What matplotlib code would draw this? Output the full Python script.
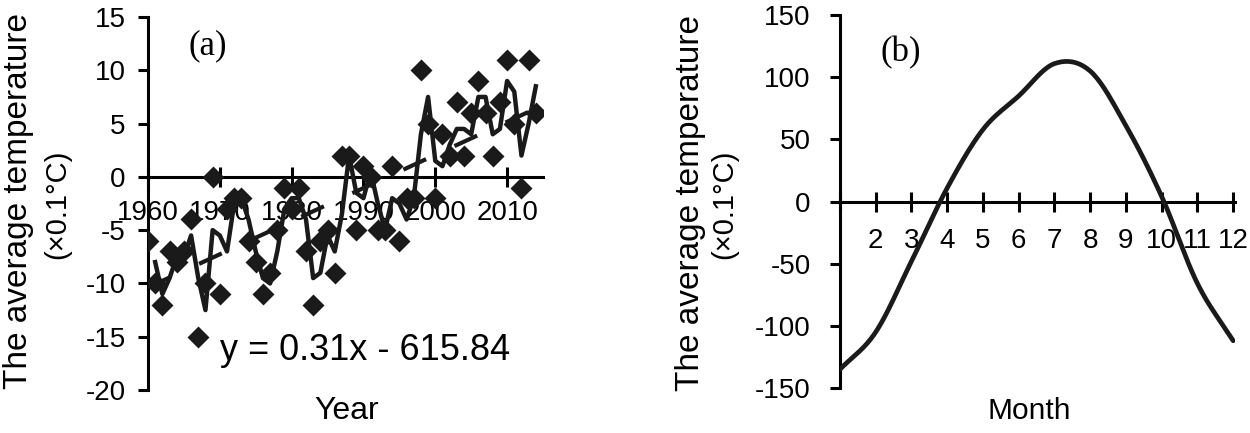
import numpy as np
import pandas as pd
import matplotlib
matplotlib.use("Agg")
import matplotlib.pyplot as plt
from matplotlib.path import Path
from matplotlib.patches import PathPatch

plt.rcParams['font.family'] = ['Liberation Sans', 'DejaVu Sans']
plt.rcParams['axes.unicode_minus'] = False

# -------------------------------
# Data
# -------------------------------
years = np.arange(1960, 2015)
temp_anom = [-6, -10, -12, -7, -8, -7, -4, -15, -10, 0,
             -11, -3, -2, -2, -6, -8, -11, -9, -5, -1,
             -3, -1, -7, -12, -6, -5, -9, 2, 2, -5,
             1, 0, -5, -5, 1, -6, -2, -2, 10, 5,
             -2, 4, 2, 7, 2, 6, 9, 6, 2, 7,
             11, 5, -1, 11, 6]
year_ticks = [1960, 1970, 1980, 1990, 2000, 2010]
equation = "y = 0.31x - 615.84"

months = np.arange(1, 13)
month_temp = [-135, -105, -48, 11, 58, 85, 111, 105, 61, 4, -66, -112]
month_ticks = list(range(2, 13))

ylab1 = "The average temperature"
ylab2 = "(\u00d70.1\u00b0C)"

W, H = 1250, 433


def smooth_path(x, y, n=20):
    # Catmull-Rom style smoothing, like a spreadsheet "smoothed line"
    x = np.asarray(x, float)
    y = np.asarray(y, float)
    px = np.concatenate([[2 * x[0] - x[1]], x, [2 * x[-1] - x[-2]]])
    py = np.concatenate([[2 * y[0] - y[1]], y, [2 * y[-1] - y[-2]]])
    xs, ys = [], []
    for i in range(1, len(px) - 2):
        t = np.linspace(0, 1, n, endpoint=False)
        for arr, out in ((px, xs), (py, ys)):
            p0, p1, p2, p3 = arr[i - 1], arr[i], arr[i + 1], arr[i + 2]
            out.extend(0.5 * (2 * p1 + (-p0 + p2) * t
                              + (2 * p0 - 5 * p1 + 4 * p2 - p3) * t ** 2
                              + (-p0 + 3 * p1 - 3 * p2 + p3) * t ** 3))
    xs.append(x[-1])
    ys.append(y[-1])
    return np.array(xs), np.array(ys)


def style_axes(ax, ypad):
    ax.spines['top'].set_visible(False)
    ax.spines['right'].set_visible(False)
    ax.spines['bottom'].set_position(('data', 0))
    ax.spines['left'].set_linewidth(2.2)
    ax.spines['bottom'].set_linewidth(2.2)
    ax.tick_params(axis='y', direction='out', length=7, width=2.2,
                   labelsize=20, pad=ypad)
    ax.tick_params(axis='x', direction='inout', length=14, width=2.2,
                   labelsize=20)


def side_label(xpix, ypix, text, size):
    fig.text(xpix / W, 1 - ypix / H, text, rotation=90, ha='center',
             va='center', fontsize=size)


fig = plt.figure(figsize=(12.5, 4.33), dpi=100)

# -------------------------------
# (a) annual series
# -------------------------------
ax1 = fig.add_axes([0.1184, 0.0993, 0.316, 0.8614])
vals = np.array(temp_anom, float)
ma2 = pd.Series(vals).rolling(2).mean()
coef = np.polyfit(years, vals, 1)

ax1.plot(years, ma2, color='#1a1a1a', lw=3.2, zorder=3)
ax1.plot(years, np.polyval(coef, years), color='#1a1a1a', lw=3.0,
         dashes=(6, 7.5), zorder=3)
ax1.plot(years, vals, 'D', color='#1a1a1a', ms=11.5, mec='none', zorder=4)

ax1.set_xlim(1960, 2015)
ax1.set_ylim(-20, 15)
ax1.set_xticks(year_ticks)
ax1.set_yticks(range(-20, 16, 5))
style_axes(ax1, 9)
ax1.tick_params(axis='x', pad=10)
ax1.text(0.15, 0.924, "(a)", transform=ax1.transAxes, ha='center',
         va='center', fontsize=25, family='Liberation Serif')
ax1.text(0.549, 0.107, equation, transform=ax1.transAxes, ha='center',
         va='center', fontsize=26)
fig.text(347 / W, 1 - 411 / H, "Year", ha='center', va='center', fontsize=23)
side_label(19, 201, ylab1, 24)
side_label(57, 204, ylab2, 21)

# -------------------------------
# (b) monthly cycle
# -------------------------------
ax2 = fig.add_axes([0.672, 0.104, 0.316, 0.861])
sx, sy = smooth_path(months, month_temp)
ax2.add_patch(PathPatch(Path(np.column_stack([sx, sy])), fill=False,
                        lw=3.4, color='#1a1a1a', capstyle='round', zorder=3))
ax2.set_xlim(1, 12.05)
ax2.set_ylim(-150, 150)
ax2.set_xticks(months)
ax2.set_xticklabels([''] + [str(m) for m in month_ticks])
ax2.set_yticks(range(-150, 151, 50))
style_axes(ax2, 14)
ax2.tick_params(axis='x', pad=12)
ax2.text(0.154, 0.898, "(b)", transform=ax2.transAxes, ha='center',
         va='center', fontsize=25, family='Liberation Serif')
fig.text(1029 / W, 1 - 411 / H, "Month", ha='center', va='center',
         fontsize=21.5)
side_label(690, 203, ylab1, 24)
side_label(724, 204, ylab2, 21)

fig.savefig("out.png", dpi=100)
